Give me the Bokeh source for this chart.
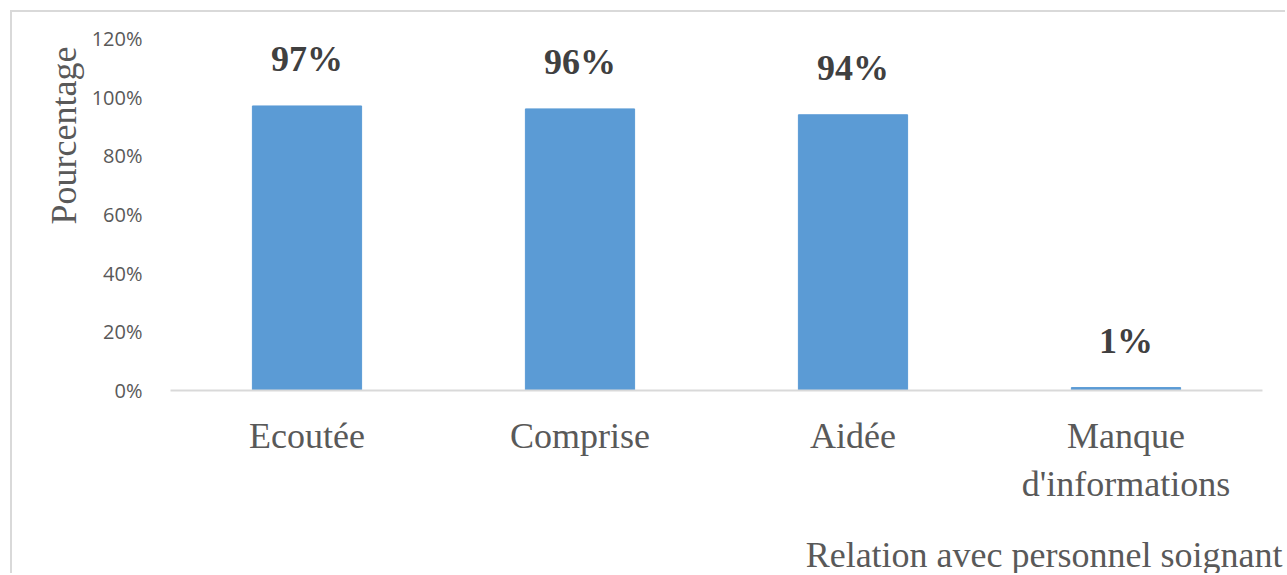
from bokeh.plotting import figure
from bokeh.models import FactorRange, NumeralTickFormatter, FixedTicker, Title, ColumnDataSource
from bokeh.embed import file_html
from bokeh.resources import INLINE

# Relation with care staff: share of respondents per item
categories = ["Ecoutée", "Comprise", "Aidée", "Manque\nd'informations"]
values = [0.97, 0.96, 0.94, 0.01]
value_labels = ["97%", "96%", "94%", "1%"]
y_ticks = [0, 0.2, 0.4, 0.6, 0.8, 1.0, 1.2]

source = ColumnDataSource(dict(cat=categories, val=values, lab=value_labels))

p = figure(
    x_range=FactorRange(factors=categories, range_padding=0),
    y_range=(0, 1.2),
    width=1275, height=563,
    output_backend="svg", toolbar_location=None,
    min_border_left=158, min_border_right=25,
    min_border_top=26, min_border_bottom=185,
)
p.styles = {"margin-left": "10px", "margin-top": "10px",
            "border-left": "2px solid #d9d9d9", "border-top": "2px solid #d9d9d9"}
p.outline_line_color = None
p.background_fill_color = "white"
p.border_fill_color = "white"
p.xgrid.grid_line_color = None
p.ygrid.grid_line_color = None

p.vbar(x="cat", top="val", width=0.4, source=source, color="#5b9bd5")

p.text(x="cat", y="val", text="lab", source=source,
       text_align="center", text_baseline="middle", y_offset=-47,
       text_font="Liberation Serif", text_font_style="bold",
       text_font_size="36px", text_color="#404040")

# y axis: percentages, no line or ticks
p.yaxis.ticker = FixedTicker(ticks=y_ticks)
p.yaxis.formatter = NumeralTickFormatter(format="0%")
p.yaxis.axis_line_color = None
p.yaxis.major_tick_line_color = None
p.yaxis.minor_tick_line_color = None
p.yaxis.major_label_text_font = "Open Sans"
p.yaxis.major_label_text_font_size = "20px"
p.yaxis.major_label_text_color = "#595959"
p.yaxis.major_label_standoff = 22

# x axis: categories
p.xaxis.axis_line_color = "#d9d9d9"
p.xaxis.axis_line_width = 2
p.xaxis.major_tick_line_color = None
p.xaxis.minor_tick_line_color = None
p.xaxis.major_label_text_font = "Liberation Serif"
p.xaxis.major_label_text_font_size = "36px"
p.xaxis.major_label_text_color = "#595959"
p.xaxis.major_label_standoff = 19

# axis titles, placed in the side panels
p.add_layout(Title(text="Pourcentage", align="right", offset=8,
                   text_font="Liberation Serif", text_font_size="36px",
                   text_font_style="normal", text_color="#595959"), "left")
# blank gap between the category labels and the x title
p.add_layout(Title(text=" ", standoff=23, text_font_size="1px",
                   text_color="white"), "below")
p.add_layout(Title(text="Relation avec personnel soignant", align="right",
                   offset=-20, standoff=0,
                   text_font="Liberation Serif", text_font_size="36px",
                   text_font_style="normal", text_color="#595959"), "below")

open("out.html", "w").write(file_html(p, INLINE))
